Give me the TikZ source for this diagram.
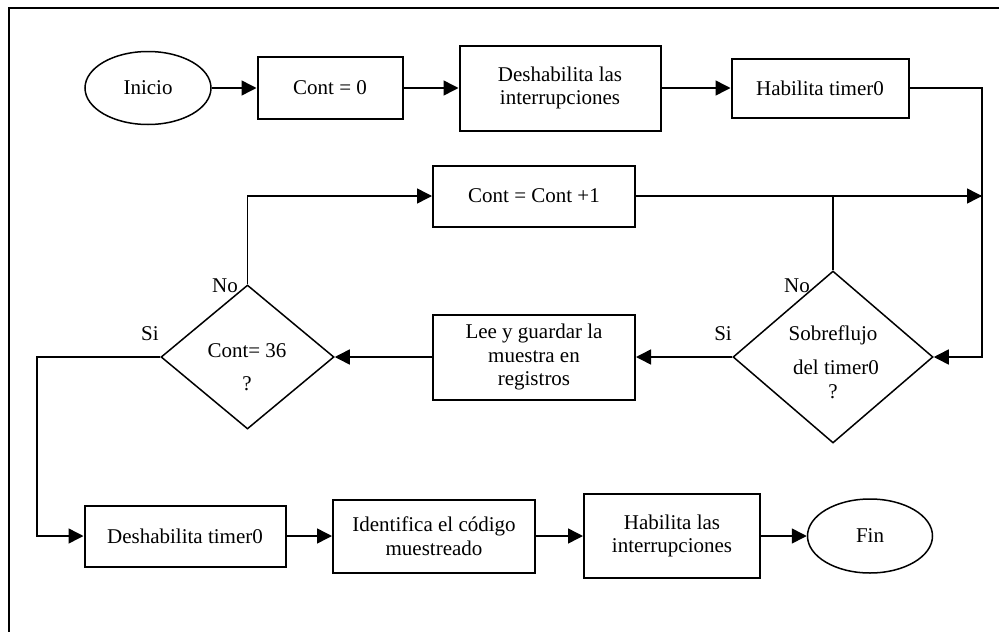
\documentclass[tikz,border=0pt]{standalone}
\usepackage{fontspec}
\setmainfont{Liberation Serif}
\usetikzlibrary{shapes.geometric,arrows.meta}

\begin{document}
\begin{tikzpicture}[x=1pt,y=-1pt,
  every node/.style={font=\fontsize{21}{23.5}\selectfont, inner sep=0pt},
  proc/.style={draw, line width=2pt, rectangle, align=center},
  term/.style={draw, line width=1.5pt, ellipse},
  decision/.style={draw, line width=1.5pt, diamond},
  lbl/.style={anchor=base},
  arr/.style={-{Triangle[length=15pt,width=15pt]}, line width=1.5pt},
  wire/.style={line width=1.5pt}]

\useasboundingbox (0,0) rectangle (999,632);

% page frame
\draw[line width=2pt] (999,8) -- (9,8) -- (9,632);

% top row
\node[term, minimum width=126pt, minimum height=73pt] (inicio) at (148,88) {Inicio};
\node[proc, minimum width=145pt, minimum height=62pt] (cont0) at (330,88) {Cont = 0};
\node[proc, minimum width=201pt, minimum height=85pt] (desint) at (560,88) {Deshabilita las\\interrupciones};
\node[proc, minimum width=177pt, minimum height=59pt] (habt) at (820,88) {Habilita timer0};

% counting loop
\node[proc, minimum width=202pt, minimum height=61pt] (inc) at (534,196) {Cont = Cont +1};
\node[proc, minimum width=202pt, minimum height=85pt] (lee) at (534,357) {Lee y guardar la\\muestra en\\registros};
\node[decision, minimum width=200pt, minimum height=172pt] (sob) at (833,357) {};
\node[decision, minimum width=173pt, minimum height=144pt] (c36) at (247.5,357) {};

\node[lbl] (sobt1) at (833,340) {Sobreflujo};
\node[lbl] (sobt2) at (836,374) {del timer0};
\node[lbl] (sobt3) at (833,398) {?};
\node[lbl] (c36t1) at (247,357) {Cont= 36};
\node[lbl] (c36t2) at (247,390) {?};

\node[lbl] (sobno) at (797,292) {No};
\node[lbl] (sobsi) at (723,340) {Si};
\node[lbl] (c36no) at (225,292) {No};
\node[lbl] (c36si) at (150,340) {Si};

% bottom row
\node[proc, minimum width=201pt, minimum height=61pt] (dest) at (185,536) {Deshabilita timer0};
\node[proc, minimum width=202pt, minimum height=73pt] (ident) at (434,536) {Identifica el código\\muestreado};
\node[proc, minimum width=176pt, minimum height=84pt] (habint) at (672,536) {Habilita las\\interrupciones};
\node[term, minimum width=125pt, minimum height=74pt] (fin) at (870,536) {Fin};

\coordinate (rail) at (982,196);
\coordinate (sicorner) at (37,357);

% connectors
\draw[arr] (inicio.east) -- (cont0.west);
\draw[arr] (cont0.east) -- (desint.west);
\draw[arr] (desint.east) -- (habt.west);
\draw[arr] (habt.east) -| (rail) |- (sob.east);
\draw[arr] (inc.east) -- (rail);
\draw[wire] (sob.north) |- (rail);
\draw[arr] (sob.west) -- (lee.east);
\draw[arr] (lee.west) -- (c36.east);
\draw[arr] (c36.north) |- (inc.west);
\draw[arr] (c36.west) -- (sicorner) |- (dest.west);
\draw[arr] (dest.east) -- (ident.west);
\draw[arr] (ident.east) -- (habint.west);
\draw[arr] (habint.east) -- (fin.west);

\end{tikzpicture}
\end{document}
